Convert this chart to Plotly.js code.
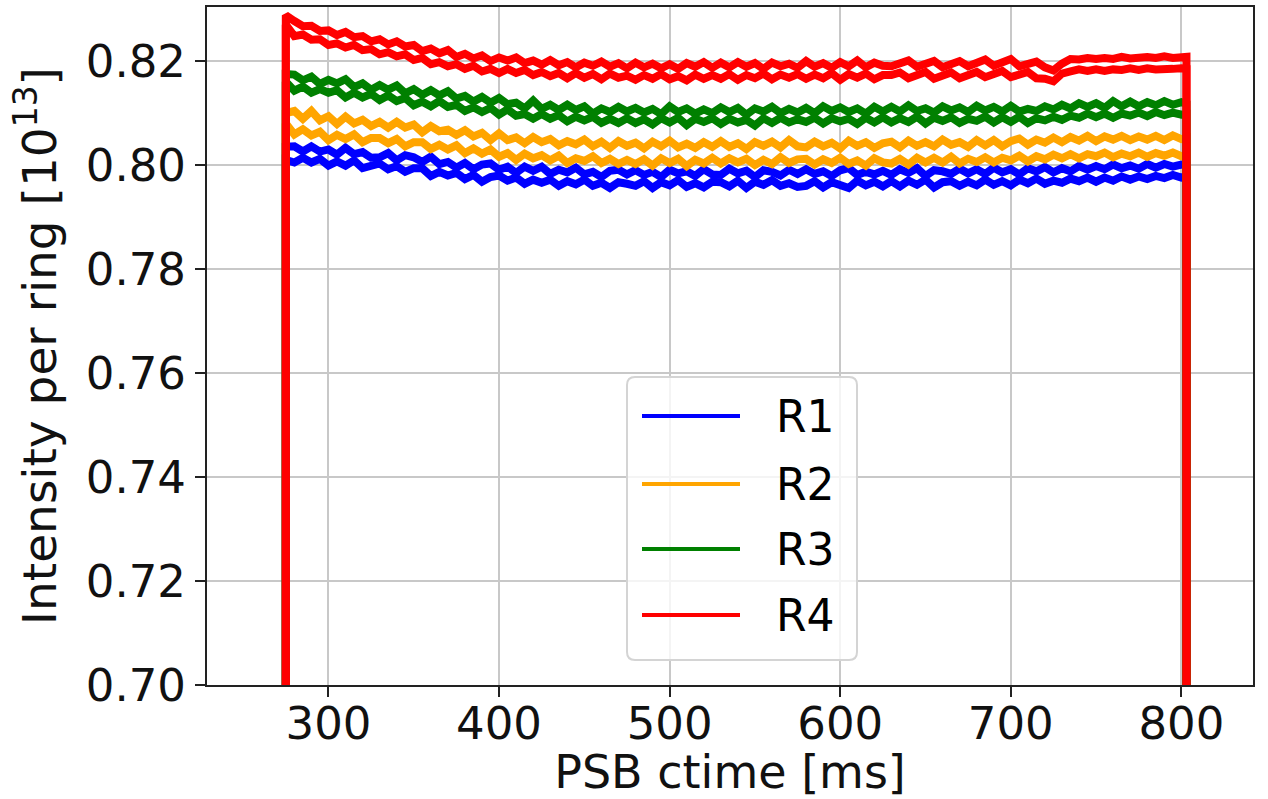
<!DOCTYPE html>
<html>
<head>
<meta charset="utf-8">
<script src="https://cdn.plot.ly/plotly-3.0.1.min.js"></script>
<style>html,body{margin:0;padding:0;background:#fff;}#chart{width:1268px;height:799px;}</style>
</head>
<body>
<div id="chart"></div>
<script>
// PSB ctime [ms]
const ctime = [275,275,
280,285,290,295,300,305,310,315,320,325,
330,335,340,345,350,355,360,365,370,375,
380,385,390,395,400,405,410,415,420,425,
430,435,440,445,450,455,460,465,470,475,
480,485,490,495,500,505,510,515,520,525,
530,535,540,545,550,555,560,565,570,575,
580,585,590,595,600,605,610,615,620,625,
630,635,640,645,650,655,660,665,670,675,
680,685,690,695,700,705,710,715,720,725,
730,735,740,745,750,755,760,765,770,775,
780,785,790,795,800,803,803];

const ringNames = ["R1","R2","R3","R4"];
const ringColors = ["#0000ff","#ffa500","#008000","#ff0000"];

// Intensity per ring [1e13], two overlaid shots per ring
const r1_a = [0.70,0.8035,
0.8036,0.8026,0.8036,0.8026,0.8030,0.8020,0.8033,0.8021,0.8025,0.8014,
0.8015,0.8023,0.8009,0.8019,0.8015,0.8006,0.8016,0.8002,0.8006,0.7995,
0.8004,0.7992,0.8001,0.8003,0.7991,0.7997,0.7985,0.7997,0.7989,0.7997,
0.7983,0.7991,0.7986,0.7995,0.7982,0.7987,0.7977,0.7989,0.7991,0.7982,
0.7990,0.7981,0.7987,0.7977,0.7991,0.7984,0.7988,0.7979,0.7992,0.7982,
0.7981,0.7993,0.7984,0.7989,0.7977,0.7990,0.7987,0.7980,0.7991,0.7983,
0.7992,0.7983,0.7988,0.7979,0.7990,0.7994,0.7981,0.7987,0.7982,0.7989,
0.7981,0.7992,0.7985,0.7994,0.7979,0.7990,0.7988,0.7983,0.7993,0.7984,
0.7992,0.7983,0.7995,0.7986,0.7992,0.7982,0.7994,0.7988,0.7996,0.7986,
0.7994,0.7988,0.7998,0.7991,0.7998,0.7992,0.8001,0.7994,0.7999,0.7993,
0.8002,0.7995,0.8002,0.7997,0.8001,0.8000,0.70];
const r1_b = [0.70,0.8010,
0.8005,0.8014,0.8005,0.8012,0.7999,0.8007,0.7999,0.8009,0.7994,0.7999,
0.8003,0.7992,0.7998,0.7987,0.7994,0.7994,0.7979,0.7987,0.7980,0.7985,
0.7973,0.7981,0.7968,0.7977,0.7980,0.7970,0.7976,0.7964,0.7972,0.7966,
0.7972,0.7960,0.7969,0.7963,0.7972,0.7960,0.7966,0.7956,0.7967,0.7964,
0.7960,0.7969,0.7956,0.7967,0.7961,0.7971,0.7958,0.7965,0.7957,0.7968,
0.7967,0.7959,0.7970,0.7956,0.7968,0.7962,0.7971,0.7960,0.7965,0.7958,
0.7960,0.7969,0.7957,0.7967,0.7962,0.7956,0.7970,0.7961,0.7968,0.7959,
0.7969,0.7959,0.7970,0.7962,0.7972,0.7957,0.7967,0.7969,0.7960,0.7968,
0.7961,0.7972,0.7962,0.7969,0.7961,0.7972,0.7965,0.7974,0.7964,0.7970,
0.7966,0.7974,0.7969,0.7976,0.7968,0.7976,0.7970,0.7978,0.7972,0.7978,
0.7973,0.7979,0.7975,0.7981,0.7976,0.7978,0.70];

const r2_a = [0.70,0.8100,
0.8104,0.8089,0.8104,0.8086,0.8094,0.8079,0.8093,0.8080,0.8087,0.8075,
0.8083,0.8072,0.8083,0.8072,0.8078,0.8063,0.8075,0.8065,0.8068,0.8058,
0.8067,0.8055,0.8062,0.8048,0.8061,0.8048,0.8053,0.8042,0.8054,0.8044,
0.8050,0.8038,0.8046,0.8040,0.8049,0.8036,0.8045,0.8033,0.8046,0.8037,
0.8043,0.8032,0.8045,0.8036,0.8047,0.8034,0.8041,0.8033,0.8044,0.8035,
0.8046,0.8035,0.8042,0.8031,0.8044,0.8037,0.8045,0.8034,0.8048,0.8036,
0.8034,0.8045,0.8036,0.8043,0.8032,0.8047,0.8037,0.8044,0.8033,0.8042,
0.8045,0.8034,0.8047,0.8037,0.8044,0.8036,0.8049,0.8039,0.8044,0.8035,
0.8048,0.8038,0.8048,0.8036,0.8046,0.8051,0.8039,0.8049,0.8043,0.8053,
0.8044,0.8054,0.8047,0.8056,0.8046,0.8055,0.8049,0.8056,0.8048,0.8055,
0.8049,0.8056,0.8048,0.8057,0.8050,0.8052,0.70];
const r2_b = [0.70,0.8080,
0.8059,0.8069,0.8057,0.8064,0.8048,0.8058,0.8050,0.8059,0.8044,0.8052,
0.8052,0.8042,0.8050,0.8036,0.8044,0.8044,0.8031,0.8039,0.8030,0.8038,
0.8023,0.8032,0.8022,0.8030,0.8016,0.8023,0.8010,0.8022,0.8013,0.8019,
0.8009,0.8018,0.8004,0.8013,0.8008,0.8017,0.8004,0.8012,0.8002,0.8010,
0.8002,0.8011,0.7999,0.8013,0.8004,0.8012,0.7998,0.8010,0.8003,0.8014,
0.8003,0.8013,0.8005,0.8012,0.8000,0.8010,0.8002,0.8015,0.8004,0.8011,
0.8012,0.8001,0.8011,0.8004,0.8014,0.8002,0.8009,0.7999,0.8013,0.8005,
0.8003,0.8012,0.8001,0.8014,0.8005,0.8014,0.8005,0.8016,0.8003,0.8012,
0.8006,0.8015,0.8005,0.8014,0.8009,0.8018,0.8007,0.8017,0.8011,0.8020,
0.8013,0.8021,0.8013,0.8021,0.8017,0.8024,0.8015,0.8022,0.8017,0.8024,
0.8016,0.8023,0.8018,0.8024,0.8017,0.8020,0.70];

const r3_a = [0.70,0.8175,
0.8174,0.8163,0.8170,0.8156,0.8164,0.8157,0.8165,0.8150,0.8157,0.8145,
0.8154,0.8145,0.8153,0.8138,0.8146,0.8135,0.8144,0.8134,0.8142,0.8128,
0.8133,0.8122,0.8131,0.8120,0.8129,0.8117,0.8120,0.8109,0.8124,0.8108,
0.8116,0.8106,0.8116,0.8106,0.8113,0.8099,0.8109,0.8102,0.8112,0.8103,
0.8110,0.8101,0.8108,0.8098,0.8113,0.8102,0.8109,0.8099,0.8107,0.8100,
0.8111,0.8102,0.8110,0.8097,0.8109,0.8103,0.8112,0.8100,0.8108,0.8101,
0.8110,0.8100,0.8113,0.8104,0.8111,0.8102,0.8109,0.8099,0.8112,0.8103,
0.8112,0.8103,0.8115,0.8104,0.8109,0.8101,0.8113,0.8105,0.8111,0.8102,
0.8114,0.8105,0.8112,0.8103,0.8114,0.8103,0.8108,0.8104,0.8113,0.8107,
0.8116,0.8109,0.8119,0.8112,0.8119,0.8110,0.8123,0.8113,0.8122,0.8113,
0.8121,0.8115,0.8123,0.8116,0.8121,0.8118,0.70];
const r3_b = [0.70,0.8160,
0.8143,0.8151,0.8139,0.8146,0.8139,0.8144,0.8130,0.8139,0.8130,0.8137,
0.8125,0.8134,0.8123,0.8129,0.8115,0.8122,0.8113,0.8123,0.8112,0.8116,
0.8104,0.8111,0.8102,0.8110,0.8097,0.8107,0.8095,0.8098,0.8089,0.8098,
0.8089,0.8096,0.8084,0.8093,0.8086,0.8093,0.8081,0.8089,0.8081,0.8090,
0.8081,0.8088,0.8078,0.8090,0.8082,0.8091,0.8077,0.8089,0.8083,0.8090,
0.8079,0.8089,0.8082,0.8087,0.8076,0.8090,0.8081,0.8091,0.8082,0.8088,
0.8083,0.8091,0.8080,0.8090,0.8084,0.8089,0.8079,0.8091,0.8082,0.8092,
0.8082,0.8090,0.8083,0.8093,0.8080,0.8091,0.8085,0.8092,0.8081,0.8089,
0.8085,0.8093,0.8082,0.8092,0.8083,0.8093,0.8081,0.8090,0.8086,0.8093,
0.8087,0.8095,0.8091,0.8099,0.8092,0.8099,0.8091,0.8099,0.8095,0.8101,
0.8094,0.8102,0.8096,0.8101,0.8097,0.8098,0.70];

const r4_a = [0.70,0.8288,
0.8277,0.8267,0.8268,0.8258,0.8259,0.8250,0.8256,0.8246,0.8248,0.8238,
0.8242,0.8232,0.8238,0.8228,0.8231,0.8219,0.8224,0.8215,0.8221,0.8208,
0.8214,0.8205,0.8211,0.8200,0.8207,0.8201,0.8207,0.8196,0.8201,0.8193,
0.8202,0.8192,0.8198,0.8188,0.8197,0.8191,0.8199,0.8189,0.8196,0.8186,
0.8197,0.8188,0.8195,0.8186,0.8194,0.8185,0.8196,0.8189,0.8198,0.8187,
0.8197,0.8188,0.8198,0.8189,0.8196,0.8185,0.8197,0.8190,0.8195,0.8187,
0.8200,0.8189,0.8196,0.8187,0.8198,0.8190,0.8201,0.8188,0.8197,0.8191,
0.8190,0.8196,0.8201,0.8189,0.8195,0.8200,0.8188,0.8194,0.8200,0.8190,
0.8197,0.8203,0.8191,0.8198,0.8204,0.8190,0.8196,0.8199,0.8188,0.8182,
0.8195,0.8204,0.8203,0.8206,0.8204,0.8206,0.8204,0.8208,0.8205,0.8207,
0.8208,0.8206,0.8209,0.8206,0.8208,0.8208,0.70];
const r4_b = [0.70,0.8270,
0.8248,0.8251,0.8241,0.8242,0.8231,0.8234,0.8226,0.8231,0.8221,0.8223,
0.8213,0.8217,0.8209,0.8213,0.8202,0.8206,0.8194,0.8198,0.8190,0.8194,
0.8185,0.8191,0.8180,0.8185,0.8177,0.8185,0.8177,0.8183,0.8173,0.8179,
0.8171,0.8177,0.8167,0.8177,0.8168,0.8175,0.8165,0.8176,0.8168,0.8172,
0.8164,0.8173,0.8166,0.8175,0.8165,0.8171,0.8163,0.8174,0.8166,0.8173,
0.8166,0.8175,0.8164,0.8173,0.8167,0.8176,0.8165,0.8174,0.8168,0.8175,
0.8166,0.8174,0.8167,0.8177,0.8164,0.8175,0.8168,0.8176,0.8165,0.8173,
0.8173,0.8178,0.8167,0.8173,0.8179,0.8166,0.8172,0.8178,0.8167,0.8174,
0.8179,0.8169,0.8175,0.8181,0.8169,0.8175,0.8179,0.8167,0.8166,0.8161,
0.8176,0.8180,0.8184,0.8181,0.8184,0.8181,0.8184,0.8183,0.8186,0.8183,
0.8186,0.8184,0.8186,0.8185,0.8186,0.8185,0.70];

const ringShots = [[r1_a, r1_b],[r2_a, r2_b],[r3_a, r3_b],[r4_a, r4_b]];

const xTicks = [300,400,500,600,700,800];
const yTicks = [0.70,0.72,0.74,0.76,0.78,0.80,0.82];

const FONT = "DejaVu Sans, Liberation Sans, sans-serif";

const traces = [];
ringShots.forEach((shots, k) => {
  shots.forEach((vals, j) => {
    traces.push({
      type: "scatter", mode: "lines",
      x: ctime, y: vals,
      name: ringNames[k], legendgroup: ringNames[k], showlegend: false,
      line: {color: ringColors[k], width: 8},
      hoverinfo: "skip"
    });
  });
});

// custom matplotlib-like legend
const W = 1268, H = 799, mL = 207, mR = 15, mT = 7, mB = 114;
const pw = W - mL - mR, ph = H - mT - mB;
const px = v => (v - mL) / pw;
const py = v => (H - mB - v) / ph;

const bx0 = px(627), bx1 = px(857), by0 = py(660), by1 = py(377);
const rx = 8 / pw, ry = 8 / ph;
const boxPath = `M ${bx0+rx},${by0} L ${bx1-rx},${by0} Q ${bx1},${by0} ${bx1},${by0+ry} L ${bx1},${by1-ry} Q ${bx1},${by1} ${bx1-rx},${by1} L ${bx0+rx},${by1} Q ${bx0},${by1} ${bx0},${by1-ry} L ${bx0},${by0+ry} Q ${bx0},${by0} ${bx0+rx},${by0} Z`;

const shapes = [{
  type: "path", xref: "paper", yref: "paper", path: boxPath,
  fillcolor: "rgba(255,255,255,0.8)", line: {color: "#d4d4d4", width: 2}, layer: "above"
}];
const annotations = [];
const legendY = [416, 484, 549, 615];
ringNames.forEach((nm, k) => {
  shapes.push({
    type: "line", xref: "paper", yref: "paper",
    x0: px(642), x1: px(740), y0: py(legendY[k]), y1: py(legendY[k]),
    line: {color: ringColors[k], width: 4}, layer: "above"
  });
  annotations.push({
    xref: "paper", yref: "paper", x: px(774), y: py(legendY[k]),
    xanchor: "left", yanchor: "middle", showarrow: false,
    text: nm, font: {family: FONT, size: 44, color: "#000"}
  });
});

const axisCommon = {
  showgrid: true, gridcolor: "#c8c8c8", gridwidth: 2,
  zeroline: false, showline: true, linecolor: "#222", linewidth: 2, mirror: true,
  ticks: "outside", ticklen: 10, tickwidth: 2, tickcolor: "#222",
  tickfont: {family: FONT, size: 45, color: "#111"}
};

const layout = {
  width: W, height: H,
  margin: {l: mL, r: mR, t: mT, b: mB, pad: 0},
  paper_bgcolor: "#fff", plot_bgcolor: "#fff",
  showlegend: false,
  font: {family: FONT, color: "#111"},
  xaxis: Object.assign({}, axisCommon, {
    range: [228.8, 842], tickvals: xTicks, ticktext: xTicks.map(String),
    ticklabelstandoff: -12,
    title: {text: "PSB ctime [ms]", font: {family: FONT, size: 46, color: "#111"}, standoff: 7}
  }),
  yaxis: Object.assign({}, axisCommon, {
    range: [0.70, 0.8304], tickvals: yTicks, ticktext: yTicks.map(v => v.toFixed(2)),
    title: {text: "Intensity per ring [10<sup>13</sup>]", font: {family: FONT, size: 47, color: "#111"}, standoff: 14}
  }),
  shapes: shapes,
  annotations: annotations
};

Plotly.newPlot("chart", traces, layout, {staticPlot: true, displayModeBar: false});
</script>
</body>
</html>
